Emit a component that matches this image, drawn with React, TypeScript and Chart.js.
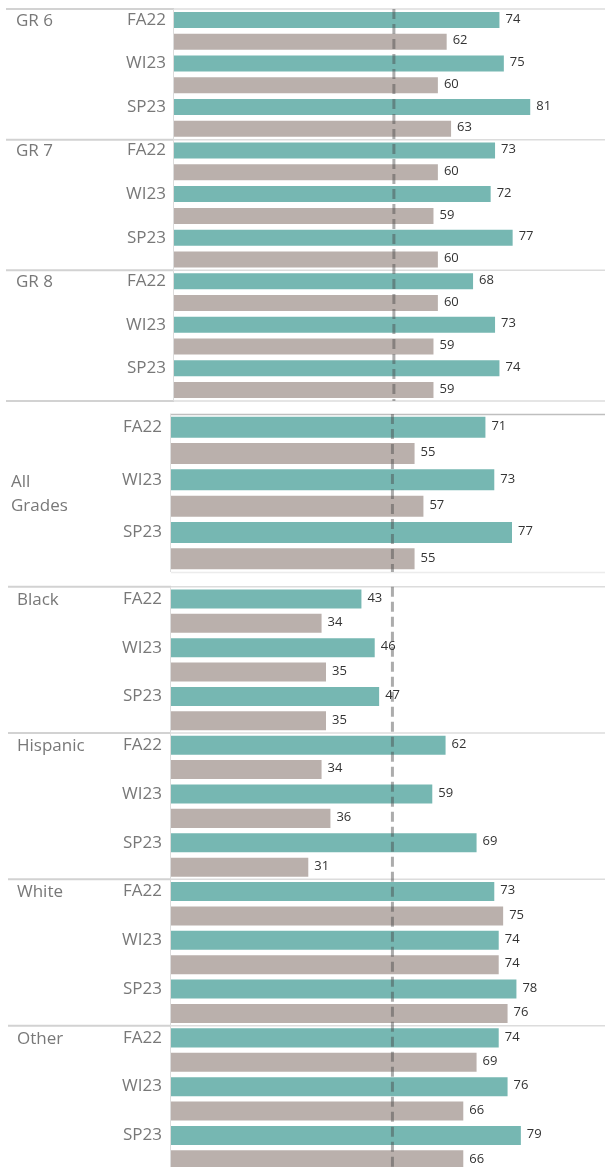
import React, { useEffect, useRef } from 'react';
import { Chart, registerables } from 'chart.js';

Chart.register(...registerables);

// ---------- data ----------
const terms = ['FA22', 'WI23', 'SP23'];

const gradeGroups = ['GR 6', 'GR 7', 'GR 8'];
const gradeTeal = [74, 75, 81, 73, 72, 77, 68, 73, 74];
const gradeGray = [62, 60, 63, 60, 59, 60, 60, 59, 59];

const allGroups = ['All Grades'];
const allTeal = [71, 73, 77];
const allGray = [55, 57, 55];

const raceGroups = ['Black', 'Hispanic', 'White', 'Other'];
const raceTeal = [43, 46, 47, 62, 59, 69, 73, 74, 78, 74, 76, 79];
const raceGray = [34, 35, 35, 34, 36, 31, 75, 74, 76, 69, 66, 66];

const referenceValue = 50;
const xMin = 0;
const xMax = 98;

// ---------- styles ----------
const TEAL = '#76b7b2';
const GRAY = '#bab0ac';
const FONT = '"Open Sans", "Noto Sans", sans-serif';

type Spec = {
  kind: 'groups' | 'all';
  groups: string[];
  teal: number[];
  gray: number[];
  divTop: number;
  divHeight: number;
  canvasHeight: number;
  padTop: number;
  padBottom: number;
  axisW: number;
  tickPad: number;
  barPct: number;
  groupX: number;
  sepLeft: number;
};

function hline(ctx: CanvasRenderingContext2D, x1: number, x2: number, y: number, color: string, w: number) {
  ctx.beginPath();
  ctx.strokeStyle = color;
  ctx.lineWidth = w;
  ctx.moveTo(x1, y);
  ctx.lineTo(x2, y);
  ctx.stroke();
}
function vline(ctx: CanvasRenderingContext2D, x: number, y1: number, y2: number, color: string, w: number) {
  ctx.beginPath();
  ctx.strokeStyle = color;
  ctx.lineWidth = w;
  ctx.moveTo(x, y1);
  ctx.lineTo(x, y2);
  ctx.stroke();
}

function makePlugin(spec: Spec) {
  return {
    id: 'panelDecor',
    beforeDatasetsDraw(chart: any) {
      const { ctx, chartArea: a, width } = chart;
      ctx.save();
      if (spec.kind === 'all') {
        hline(ctx, a.left - 1, width, a.top + 0.5, '#bfbfbf', 1.5);
        vline(ctx, a.left - 0.5, a.top, a.bottom, '#dedede', 1);
        hline(ctx, a.left, width, a.bottom + 0.5, '#ececec', 1.5);
      } else {
        const n = spec.groups.length;
        const gh = (a.bottom - a.top) / n;
        for (let g = 0; g <= n; g++) {
          const y = a.top + g * gh;
          hline(ctx, spec.sepLeft, a.left, y, '#d2d2d2', 2);
          hline(ctx, a.left, width, y, '#dcdcdc', 1.5);
        }
        vline(ctx, a.left - 0.5, a.top, a.bottom, '#dcdcdc', 1);
      }
      ctx.restore();
    },
    afterDatasetsDraw(chart: any) {
      const { ctx, chartArea: a } = chart;
      ctx.save();
      // reference dashed line
      const rx = chart.scales.x.getPixelForValue(referenceValue);
      ctx.beginPath();
      ctx.setLineDash([10, 5]);
      ctx.strokeStyle = 'rgba(70,70,70,0.45)';
      ctx.lineWidth = 3;
      ctx.moveTo(rx, a.top);
      ctx.lineTo(rx, a.bottom);
      ctx.stroke();
      ctx.setLineDash([]);

      // value labels
      ctx.font = `13px ${FONT}`;
      ctx.fillStyle = '#333333';
      ctx.textAlign = 'left';
      ctx.textBaseline = 'middle';
      chart.data.datasets.forEach((ds: any, di: number) => {
        const meta = chart.getDatasetMeta(di);
        meta.data.forEach((el: any, i: number) => {
          ctx.fillText(String(ds.data[i]), el.x + 6, el.y - 1);
        });
      });

      // group labels
      ctx.font = `17px ${FONT}`;
      ctx.fillStyle = '#787878';
      const n = spec.groups.length;
      if (spec.kind === 'all') {
        const words = spec.groups[0].split(' ');
        const cy = (a.top + a.bottom) / 2;
        ctx.fillText(words[0], spec.groupX, cy - 11);
        ctx.fillText(words[1], spec.groupX, cy + 13);
      } else {
        const gh = (a.bottom - a.top) / n;
        const slot = gh / 6;
        spec.groups.forEach((g, gi) => {
          ctx.fillText(g, spec.groupX, a.top + gi * gh + slot / 2 + 1);
        });
      }
      ctx.restore();
    },
  };
}

function Panel({ spec }: { spec: Spec }) {
  const ref = useRef<HTMLCanvasElement | null>(null);
  useEffect(() => {
    if (!ref.current) return;
    const labels: string[] = [];
    spec.groups.forEach(() => terms.forEach((t) => labels.push(t)));
    const areaH = spec.canvasHeight - spec.padTop - spec.padBottom;
    const catH = areaH / labels.length;
    const chart = new Chart(ref.current, {
      type: 'bar',
      data: {
        labels,
        datasets: [
          {
            label: 'Teal',
            data: spec.teal,
            backgroundColor: TEAL,
            categoryPercentage: 1,
            barPercentage: spec.barPct,
          },
          {
            label: 'Gray',
            data: spec.gray,
            backgroundColor: GRAY,
            categoryPercentage: 1,
            barPercentage: spec.barPct,
          },
        ],
      },
      options: {
        indexAxis: 'y',
        responsive: false,
        maintainAspectRatio: false,
        animation: false,
        layout: { padding: { top: spec.padTop, bottom: spec.padBottom, left: 0, right: 0 } },
        plugins: { legend: { display: false }, tooltip: { enabled: false } },
        scales: {
          x: { display: false, min: xMin, max: xMax },
          y: {
            position: 'left',
            grid: { display: false, drawTicks: false },
            border: { display: false },
            ticks: {
              autoSkip: false,
              padding: spec.tickPad,
              labelOffset: -catH / 4,
              color: '#787878',
              font: { family: FONT, size: 17 },
            },
            afterFit: (s: any) => {
              s.width = spec.axisW;
              s.paddingTop = 0;
              s.paddingBottom = 0;
            },
          },
        },
      } as any,
      plugins: [makePlugin(spec)],
    });
    return () => chart.destroy();
  }, [spec]);
  return (
    <div
      style={{
        position: 'absolute',
        left: 0,
        top: spec.divTop,
        width: 605,
        height: spec.divHeight,
        overflow: 'hidden',
      }}
    >
      <canvas ref={ref} width={605} height={spec.canvasHeight} style={{ display: 'block' }} />
    </div>
  );
}

const specs: Spec[] = [
  {
    kind: 'groups',
    groups: gradeGroups,
    teal: gradeTeal,
    gray: gradeGray,
    divTop: 0,
    divHeight: 405,
    canvasHeight: 405,
    padTop: 9,
    padBottom: 4,
    axisW: 174,
    tickPad: 8,
    barPct: 0.735,
    groupX: 16,
    sepLeft: 6,
  },
  {
    kind: 'all',
    groups: allGroups,
    teal: allTeal,
    gray: allGray,
    divTop: 405,
    divHeight: 172,
    canvasHeight: 172,
    padTop: 9,
    padBottom: 5,
    axisW: 171,
    tickPad: 9,
    barPct: 0.8,
    groupX: 11,
    sepLeft: 6,
  },
  {
    kind: 'groups',
    groups: raceGroups,
    teal: raceTeal,
    gray: raceGray,
    divTop: 577,
    divHeight: 590,
    canvasHeight: 600,
    padTop: 9.7,
    padBottom: 5,
    axisW: 171,
    tickPad: 9,
    barPct: 0.78,
    groupX: 17,
    sepLeft: 8,
  },
];

export default function App() {
  useEffect(() => {
    document.body.style.overflow = 'hidden';
  }, []);
  return (
    <div
      style={{
        position: 'absolute',
        left: 0,
        top: 0,
        width: 605,
        height: 1167,
        overflow: 'hidden',
        background: '#ffffff',
      }}
    >
      {specs.map((s, i) => (
        <Panel key={i} spec={s} />
      ))}
    </div>
  );
}
